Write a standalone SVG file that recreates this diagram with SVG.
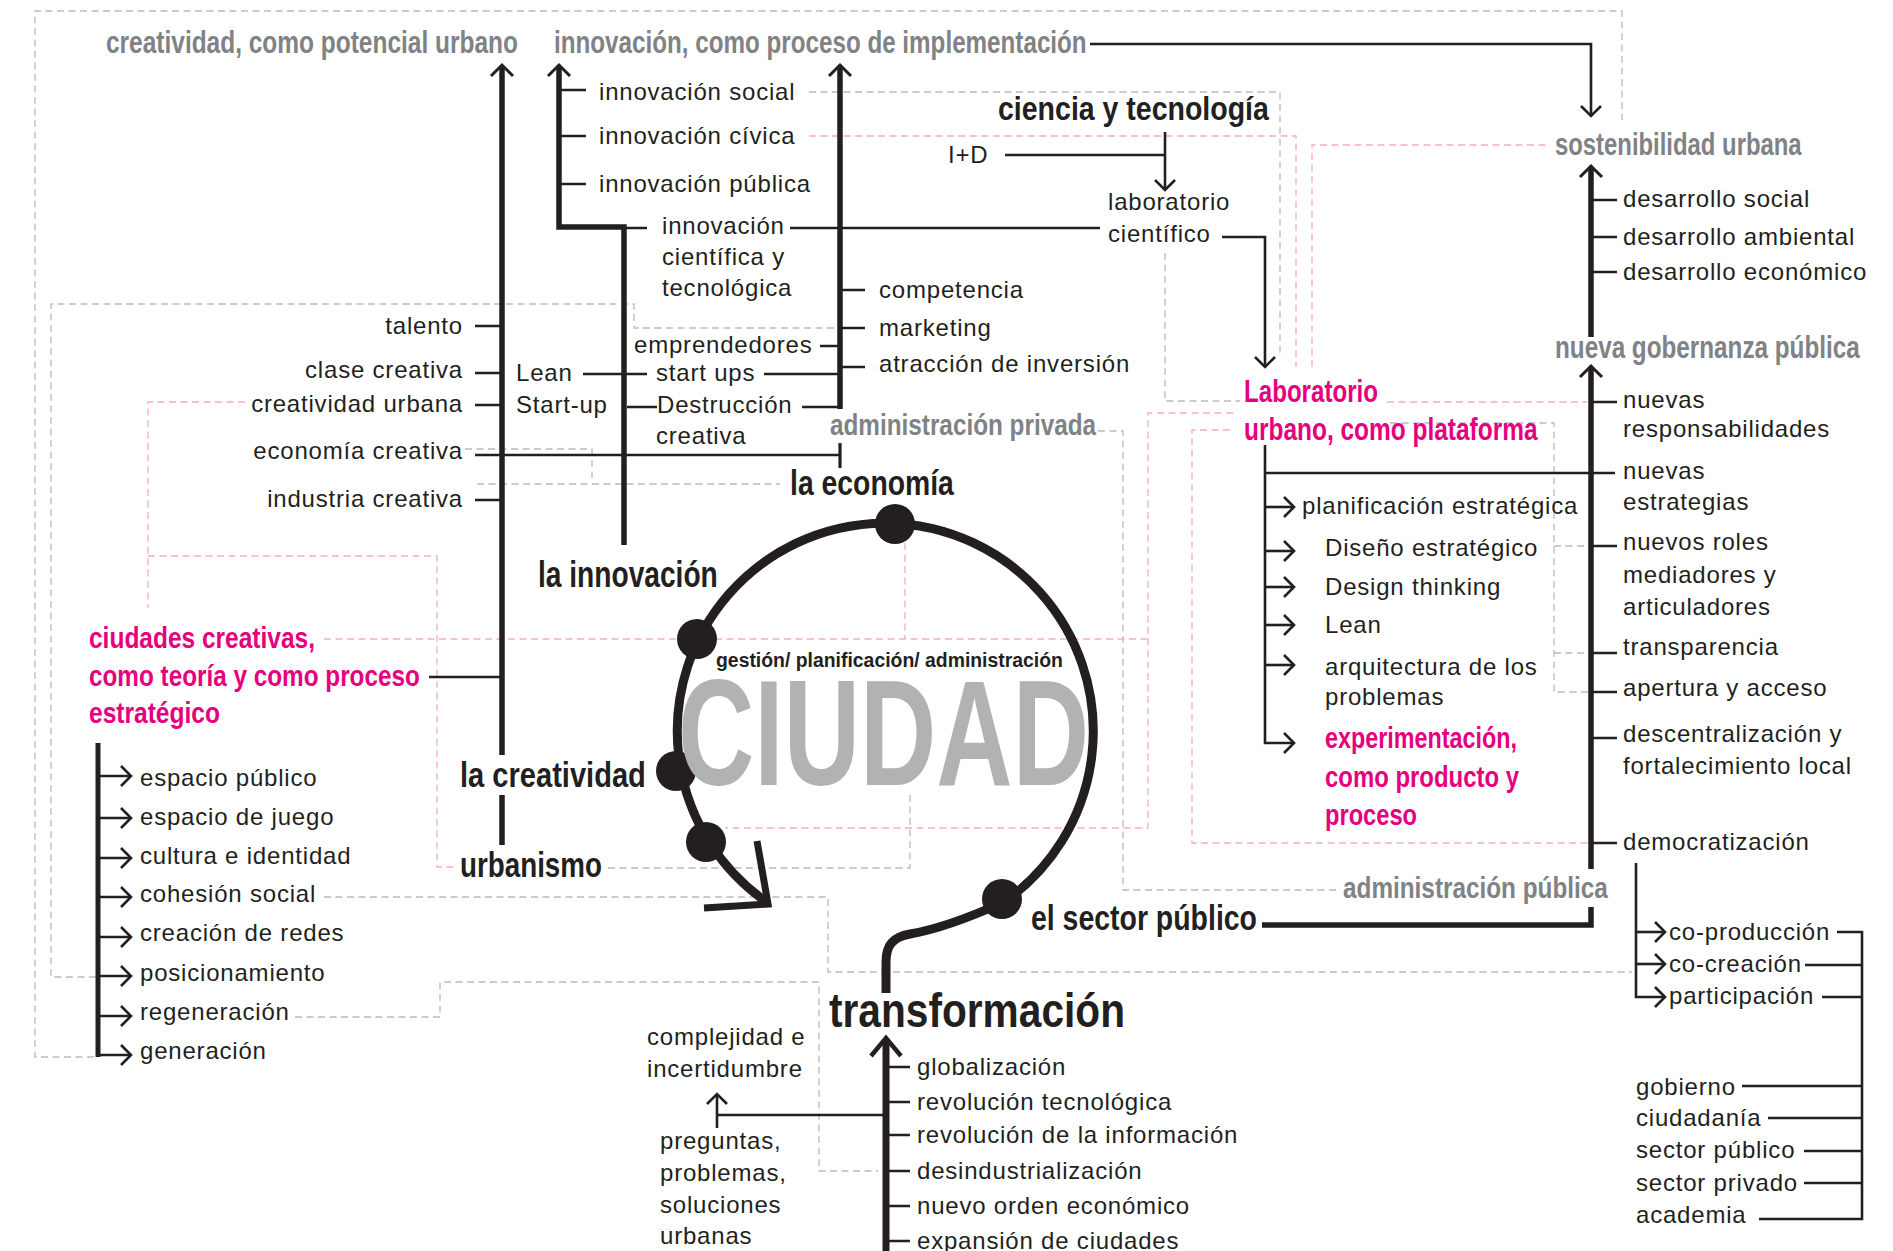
<svg xmlns="http://www.w3.org/2000/svg" width="1893" height="1251" viewBox="0 0 1893 1251">
  <style>
    .t { font-family: 'Liberation Sans', Arial, sans-serif; font-size: 24px; letter-spacing: 0.8px; fill: #231f20; }
    .h { font-family: 'Liberation Sans', Arial, sans-serif; font-weight: 700; }
    .k { fill: #231f20; }
    .g { fill: #808285; }
    .p { fill: #e6007e; }
    .end { text-anchor: end; }
    .dg { fill: none; stroke: #b9bbbd; stroke-width: 1.3; stroke-dasharray: 7 4.5; }
    .dp { fill: none; stroke: #f5abcb; stroke-width: 1.3; stroke-dasharray: 7 4.5; }
    .thick { fill: none; stroke: #231f20; stroke-width: 5.5; stroke-linejoin: miter; }
    .thin { fill: none; stroke: #231f20; stroke-width: 2.6; stroke-linejoin: miter; }
    .arr { marker-end: url(#ah); }
    .arrT { marker-end: url(#ahT); }
  </style>
  <defs>
    <marker id="ah" markerUnits="userSpaceOnUse" viewBox="-16 -16 32 32" markerWidth="32" markerHeight="32" refX="0" refY="0" orient="auto" overflow="visible">
      <path d="M-10,-10 L0,0 L-10,10" fill="none" stroke="#231f20" stroke-width="2.6"/>
    </marker>
    <marker id="ahT" markerUnits="userSpaceOnUse" viewBox="-16 -16 32 32" markerWidth="32" markerHeight="32" refX="0" refY="0" orient="auto" overflow="visible">
      <path d="M-9,-11 L2,0 L-9,11" fill="none" stroke="#231f20" stroke-width="3"/>
    </marker>
    <marker id="ahB" markerUnits="userSpaceOnUse" viewBox="-24 -24 48 48" markerWidth="48" markerHeight="48" refX="0" refY="0" orient="auto" overflow="visible">
      <path d="M-16,-15 L2,0 L-16,15" fill="none" stroke="#231f20" stroke-width="4.5"/>
    </marker>
  </defs>

  <rect width="1893" height="1251" fill="#ffffff"/>

  <!-- dashed cross-references -->
  <g id="dashed-links">
    <path class="dg" d="M94,1057 H35 V11 H1622 V120"/>
    <path class="dg" d="M96,977 H51 V304 H634 V328 H838"/>
    <path class="dg" d="M809,92 H1280 V357"/>
    <path class="dg" d="M1165,253 V401 H1240"/>
    <path class="dg" d="M1390,423 H1554 V692 H1591 M1554,546 H1591 M1554,653 H1591"/>
    <path class="dg" d="M1098,431 H1123 V890 H1340"/>
    <path class="dg" d="M465,449 H592 V478"/>
    <path class="dg" d="M477,484 H780"/>
    <path class="dg" d="M608,868 H910 V793"/>
    <path class="dg" d="M324,897 H828 V972 H1632"/>
    <path class="dg" d="M295,1017 H440 V982 H819 V1171 H878"/>
    <path class="dp" d="M245,402 H148 V608 M148,556 H437 V867 H458"/>
    <path class="dp" d="M324,639 H1148 M1233,413 H1148 V828 H725"/>
    <path class="dp" d="M905,543 V639"/>
    <path class="dp" d="M809,136 H1296 V367"/>
    <path class="dp" d="M1312,367 V145 H1549"/>
    <path class="dp" d="M1387,402 H1587"/>
    <path class="dp" d="M1230,430 H1192 V843 H1590"/>
  </g>

  <!-- connectors -->
  <g id="connectors">
    <!-- creatividad trunk -->
    <path class="thick arrT" d="M502,755 V67"/>
    <path class="thick" d="M502,795 V845"/>
    <path class="thin" d="M475,326 H502 M475,373 H502 M475,405 H502 M475,500 H502 M429,677 H502"/>
    <path class="thin" d="M475,455 H840"/>
    <path class="thin" style="stroke-width:3.2" d="M840,443 V468"/>
    <!-- innovación trunks -->
    <path class="thick arrT" d="M624,545 V227 H559 V67"/>
    <path class="thick arrT" d="M840,409 V67"/>
    <path class="thin" d="M559,90 H586 M559,136 H586 M559,184 H586"/>
    <path class="thin" d="M624,228 H647 M790,228 H1100"/>
    <path class="thin" d="M840,290 H865 M840,328 H865 M840,367 H865 M820,346 H840"/>
    <path class="thin" d="M583,374 H647 M764,374 H840 M627,407 H657 M802,407 H840"/>
    <!-- implementación hacia sostenibilidad -->
    <path class="thin arr" d="M1090,44 H1591 V116"/>
    <!-- ciencia y tecnología -->
    <path class="thin" d="M1005,155 H1165"/>
    <path class="thin arr" d="M1165,132 V190"/>
    <path class="thin arr" d="M1222,237 H1265 V367"/>
    <!-- laboratorio urbano -->
    <path class="thin arr" d="M1265,445 V743 H1294"/>
    <path class="thin arr" d="M1265,507 H1294"/>
    <path class="thin arr" d="M1265,551 H1294"/>
    <path class="thin arr" d="M1265,587 H1294"/>
    <path class="thin arr" d="M1265,625 H1294"/>
    <path class="thin arr" d="M1265,665 H1294"/>
    <path class="thin" d="M1265,473 H1615"/>
    <!-- sostenibilidad / gobernanza trunk -->
    <path class="thick arrT" d="M1591,337 V168"/>
    <path class="thick arrT" d="M1591,869 V368"/>
    <path class="thick" d="M1262,925 H1591 V907"/>
    <path class="thin" d="M1591,200 H1617 M1591,237 H1617 M1591,272 H1617"/>
    <path class="thin" d="M1591,402 H1617 M1591,546 H1617 M1591,653 H1617 M1591,692 H1617 M1591,738 H1617 M1591,843 H1617"/>
    <!-- democratización -->
    <path class="thin arr" d="M1636,863 V997 H1665"/>
    <path class="thin arr" d="M1636,932 H1665"/>
    <path class="thin arr" d="M1636,964 H1665"/>
    <path class="thin" d="M1837,932 H1862 V1219 H1759 M1805,965 H1862 M1822,997 H1862 M1742,1086 H1862 M1768,1118 H1862 M1804,1151 H1862 M1804,1183 H1862"/>
    <!-- ciudades creativas list -->
    <path class="thick" style="stroke-width:5" d="M98,743 V1057"/>
    <path class="thin arr" d="M98,776 H131"/>
    <path class="thin arr" d="M98,818 H131"/>
    <path class="thin arr" d="M98,858 H131"/>
    <path class="thin arr" d="M98,897 H131"/>
    <path class="thin arr" d="M98,937 H131"/>
    <path class="thin arr" d="M98,976 H131"/>
    <path class="thin arr" d="M98,1016 H131"/>
    <path class="thin arr" d="M96,1055 H131"/>
    <!-- transformación -->
    <path class="thick" style="stroke-width:7;marker-end:url(#ahB)" d="M886,1251 V1040"/>
    <path class="thin" d="M886,1067 H910 M886,1102 H910 M886,1135 H910 M886,1171 H910 M886,1206 H910 M886,1241 H910"/>
    <path class="thin" d="M886,1115 H717"/>
    <path class="thin arr" d="M717,1128 V1094"/>
    <!-- ciclo de la ciudad -->
    <path fill="none" stroke="#231f20" stroke-width="9" stroke-linecap="butt" d="M886,993 V962 C886,945 893,937 910,934 C940,929 975,915 1004,902 A208,208 0 1 0 768,903"/>
    <polyline points="757,841 768,904 704,908" fill="none" stroke="#231f20" stroke-width="7" stroke-linejoin="miter"/>
    <g fill="#231f20">
      <circle cx="895" cy="524" r="20"/>
      <circle cx="697" cy="639" r="20"/>
      <circle cx="676" cy="771" r="20"/>
      <circle cx="706" cy="842" r="20"/>
      <circle cx="1002" cy="899" r="20"/>
    </g>
  </g>

  <!-- nodes -->
  <g id="ciudad">
    <text class="h" transform="translate(678,785) scale(0.7,1)" font-size="151" fill="#b1b3b3">CIUDAD</text>
    <text class="h k" transform="translate(716,667) scale(0.924,1)" font-size="21">gestión/ planificación/ administración</text>
  </g>

  <g id="creatividad-potencial">
    <text class="h g" transform="translate(106,53) scale(0.765,1)" font-size="32">creatividad, como potencial urbano</text>
  </g>
  <g id="innovacion-proceso">
    <text class="h g" transform="translate(554,53) scale(0.757,1)" font-size="32">innovación, como proceso de implementación</text>
  </g>

  <g id="creatividad-items">
    <text class="t end" x="463" y="334">talento</text>
    <text class="t end" x="463" y="378">clase creativa</text>
    <text class="t end" x="463" y="412">creatividad urbana</text>
    <text class="t end" x="463" y="459">economía creativa</text>
    <text class="t end" x="463" y="507">industria creativa</text>
  </g>

  <g id="innovacion-items">
    <text class="t" x="599" y="100">innovación social</text>
    <text class="t" x="599" y="144">innovación cívica</text>
    <text class="t" x="599" y="192">innovación pública</text>
  </g>

  <g id="innovacion-cientifica">
    <text class="t" x="662" y="234">innovación</text>
    <text class="t" x="662" y="265">científica y</text>
    <text class="t" x="662" y="296">tecnológica</text>
  </g>

  <g id="lean-startup">
    <text class="t" x="516" y="381">Lean</text>
    <text class="t" x="516" y="413">Start-up</text>
  </g>

  <g id="emprendimiento">
    <text class="t" x="634" y="353">emprendedores</text>
    <text class="t" x="656" y="381">start ups</text>
    <text class="t" x="657" y="413">Destrucción</text>
    <text class="t" x="656" y="444">creativa</text>
  </g>

  <g id="mercado">
    <text class="t" x="879" y="298">competencia</text>
    <text class="t" x="879" y="336">marketing</text>
    <text class="t" x="879" y="372">atracción de inversión</text>
  </g>

  <g id="ciencia-tecnologia">
    <text class="h k" transform="translate(998,120) scale(0.864,1)" font-size="33">ciencia y tecnología</text>
    <text class="t" x="948" y="163">I+D</text>
    <text class="t" x="1108" y="210">laboratorio</text>
    <text class="t" x="1108" y="242">científico</text>
  </g>

  <g id="administracion-privada">
    <text class="h g" transform="translate(830,435) scale(0.838,1)" font-size="29">administración privada</text>
  </g>

  <g id="la-economia">
    <text class="h k" transform="translate(790,495) scale(0.788,1)" font-size="36">la economía</text>
  </g>
  <g id="la-innovacion">
    <text class="h k" transform="translate(538,587) scale(0.782,1)" font-size="36">la innovación</text>
  </g>
  <g id="la-creatividad">
    <text class="h k" transform="translate(460,787) scale(0.808,1)" font-size="36">la creatividad</text>
  </g>
  <g id="urbanismo">
    <text class="h k" transform="translate(460,877) scale(0.772,1)" font-size="36">urbanismo</text>
  </g>
  <g id="sector-publico">
    <text class="h k" transform="translate(1031,930) scale(0.79,1)" font-size="36">el sector público</text>
  </g>

  <g id="ciudades-creativas">
    <text class="h p" transform="translate(89,648) scale(0.845,1)" font-size="29">ciudades creativas,</text>
    <text class="h p" transform="translate(89,686) scale(0.838,1)" font-size="29">como teoría y como proceso</text>
    <text class="h p" transform="translate(89,723) scale(0.847,1)" font-size="29">estratégico</text>
  </g>
  <g id="ciudades-creativas-items">
    <text class="t" x="140" y="786">espacio público</text>
    <text class="t" x="140" y="825">espacio de juego</text>
    <text class="t" x="140" y="864">cultura e identidad</text>
    <text class="t" x="140" y="902">cohesión social</text>
    <text class="t" x="140" y="941">creación de redes</text>
    <text class="t" x="140" y="981">posicionamiento</text>
    <text class="t" x="140" y="1020">regeneración</text>
    <text class="t" x="140" y="1059">generación</text>
  </g>

  <g id="laboratorio-urbano">
    <text class="h p" transform="translate(1244,402) scale(0.754,1)" font-size="32">Laboratorio</text>
    <text class="h p" transform="translate(1244,440) scale(0.765,1)" font-size="32">urbano, como plataforma</text>
  </g>
  <g id="laboratorio-metodos">
    <text class="t" x="1302" y="514">planificación estratégica</text>
    <text class="t" x="1325" y="556">Diseño estratégico</text>
    <text class="t" x="1325" y="595">Design thinking</text>
    <text class="t" x="1325" y="633">Lean</text>
    <text class="t" x="1325" y="675">arquitectura de los</text>
    <text class="t" x="1325" y="705">problemas</text>
  </g>
  <g id="experimentacion">
    <text class="h p" transform="translate(1325,748) scale(0.805,1)" font-size="29">experimentación,</text>
    <text class="h p" transform="translate(1325,787) scale(0.825,1)" font-size="29">como producto y</text>
    <text class="h p" transform="translate(1325,825) scale(0.816,1)" font-size="29">proceso</text>
  </g>

  <g id="sostenibilidad-urbana">
    <text class="h g" transform="translate(1555,155) scale(0.77,1)" font-size="31">sostenibilidad urbana</text>
    <text class="t" x="1623" y="207">desarrollo social</text>
    <text class="t" x="1623" y="245">desarrollo ambiental</text>
    <text class="t" x="1623" y="280">desarrollo económico</text>
  </g>

  <g id="nueva-gobernanza">
    <text class="h g" transform="translate(1555,358) scale(0.783,1)" font-size="31">nueva gobernanza pública</text>
    <text class="t" x="1623" y="408">nuevas</text>
    <text class="t" x="1623" y="437">responsabilidades</text>
    <text class="t" x="1623" y="479">nuevas</text>
    <text class="t" x="1623" y="510">estrategias</text>
    <text class="t" x="1623" y="550">nuevos roles</text>
    <text class="t" x="1623" y="583">mediadores y</text>
    <text class="t" x="1623" y="615">articuladores</text>
    <text class="t" x="1623" y="655">transparencia</text>
    <text class="t" x="1623" y="696">apertura y acceso</text>
    <text class="t" x="1623" y="742">descentralización y</text>
    <text class="t" x="1623" y="774">fortalecimiento local</text>
    <text class="t" x="1623" y="850">democratización</text>
  </g>

  <g id="participacion">
    <text class="t" x="1669" y="940">co-producción</text>
    <text class="t" x="1669" y="972">co-creación</text>
    <text class="t" x="1669" y="1004">participación</text>
  </g>
  <g id="actores">
    <text class="t" x="1636" y="1095">gobierno</text>
    <text class="t" x="1636" y="1126">ciudadanía</text>
    <text class="t" x="1636" y="1158">sector público</text>
    <text class="t" x="1636" y="1191">sector privado</text>
    <text class="t" x="1636" y="1223">academia</text>
  </g>

  <g id="administracion-publica">
    <text class="h g" transform="translate(1343,898) scale(0.839,1)" font-size="29">administración pública</text>
  </g>

  <g id="transformacion">
    <text class="h k" transform="translate(829,1027) scale(0.83,1)" font-size="49">transformación</text>
  </g>
  <g id="transformacion-factores">
    <text class="t" x="917" y="1075">globalización</text>
    <text class="t" x="917" y="1110">revolución tecnológica</text>
    <text class="t" x="917" y="1143">revolución de la información</text>
    <text class="t" x="917" y="1179">desindustrialización</text>
    <text class="t" x="917" y="1214">nuevo orden económico</text>
    <text class="t" x="917" y="1249">expansión de ciudades</text>
  </g>
  <g id="complejidad">
    <text class="t" x="647" y="1045">complejidad e</text>
    <text class="t" x="647" y="1077">incertidumbre</text>
  </g>
  <g id="preguntas">
    <text class="t" x="660" y="1149">preguntas,</text>
    <text class="t" x="660" y="1181">problemas,</text>
    <text class="t" x="660" y="1213">soluciones</text>
    <text class="t" x="660" y="1244">urbanas</text>
  </g>
</svg>
